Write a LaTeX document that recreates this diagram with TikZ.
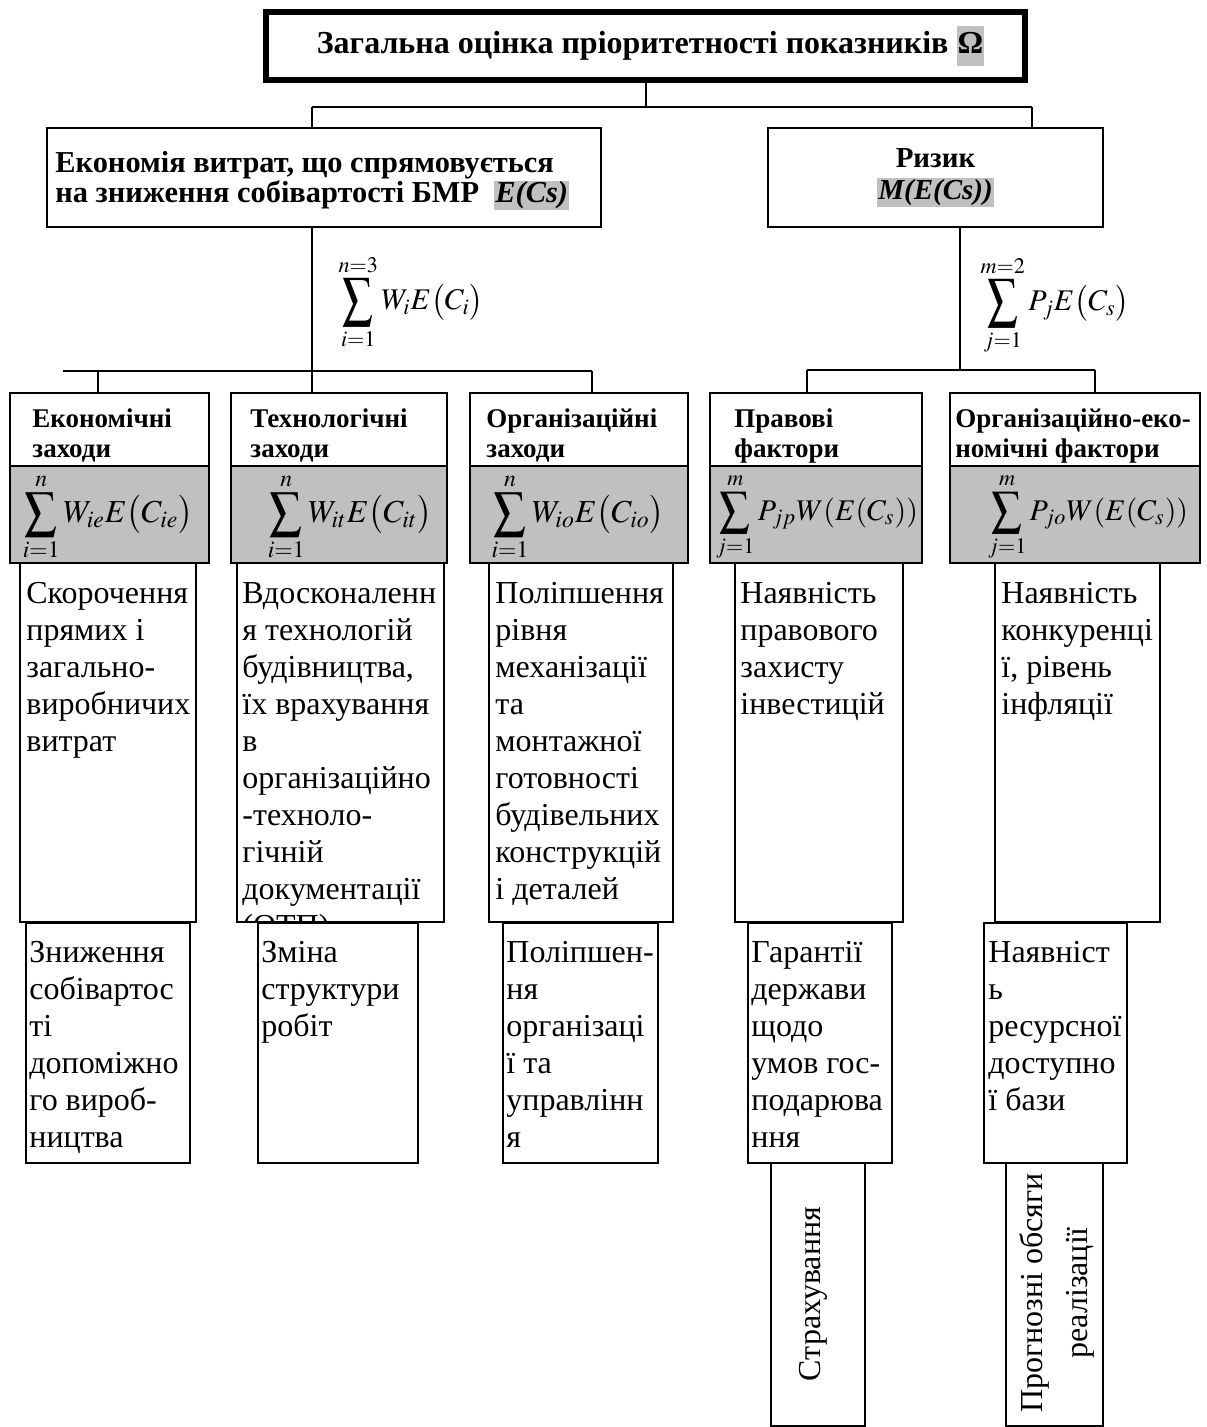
\documentclass[tikz,border=0pt]{standalone}
\usepackage{amsmath}
\usepackage{graphicx}
\usepackage{mathptmx}
\usepackage[no-math]{fontspec}
\setmainfont{Liberation Serif}
\definecolor{hl}{HTML}{C0C0C0}
\newcommand{\hs}{\rule{0pt}{12pt}}
\newcommand{\fs}{\rule{0pt}{15pt}}
\newcommand{\hlbox}[1]{{\setlength{\fboxsep}{0.5pt}\colorbox{hl}{#1}}}
\newcommand{\Sum}{\mathop{\vcenter{\hbox{\scalebox{1}[1.3]{$\displaystyle\sum$}}}}\limits}
\newcommand{\SumB}{\mathop{\vcenter{\hbox{\scalebox{1}[1.12]{$\displaystyle\sum$}}}}\limits}
\begin{document}
\begin{tikzpicture}[x=0.5pt,y=-0.5pt,
 conn/.style={line width=1pt},
 boxtop/.style={draw, line width=3pt, inner sep=0pt, outer sep=0pt},
 boxL2/.style={draw, line width=1.3pt, inner sep=0pt, outer sep=0pt},
 boxR3/.style={draw, line width=1.4pt, inner sep=0pt, outer sep=0pt},
 band/.style={draw, line width=0.6pt, fill=hl, inner sep=0pt, outer sep=0pt},
 boxR/.style={draw, line width=0.8pt, fill=white, inner sep=0pt, outer sep=0pt},
 hdr/.style={font=\bfseries\fontsize{13.5}{15}\selectfont, align=left, inner sep=0pt, anchor=north west},
 body/.style={font=\fontsize{16}{18.5}\selectfont, align=left, inner sep=0pt, anchor=north west},
 bsum/.style={font=\fontsize{16}{19}\selectfont, inner sep=0pt},
 msum/.style={font=\fontsize{15}{18}\selectfont, inner sep=0pt},
 vtxt/.style={font=\fontsize{16}{22.5}\selectfont, rotate=90, align=center, inner sep=0pt}
]
\useasboundingbox (0,0) rectangle (1206,1427);

% ---------- top levels ----------
\node[boxtop, minimum width=379.5pt, minimum height=34pt,
      font=\bfseries\fontsize{16}{19}\selectfont] (top) at (645.5,46)
  {\hspace{5pt}Загальна оцінка пріоритетності показників \hlbox{\strut Ω}};

\node[boxL2, minimum width=277pt, minimum height=49.5pt] (L2a) at (324,177.5) {};
\node[font=\bfseries\fontsize{15.2}{15}\selectfont, align=left, inner sep=0pt, anchor=west] (L2at) at (55,181)
  {Економія витрат, що спрямовується\\на зниження собівартості БМР \ \hlbox{\itshape E(Cs)}};

\node[boxL2, minimum width=167.5pt, minimum height=49.5pt,
      font=\bfseries\fontsize{14.5}{16}\selectfont, align=center] (L2b) at (935.5,177.5)
  {Ризик\\\hlbox{\itshape M(E(Cs))}};

\coordinate (jL) at (312,107);
\coordinate (jR) at (1032,107);
\draw[conn] (top.south) -- (top.south |- jL);
\draw[conn] (jL) -- (jR);
\draw[conn] (jL) -- (jL |- L2a.north);
\draw[conn] (jR) -- (jR |- L2b.north);

% ---------- middle sums ----------
\node[msum] (S1) at (411,302) {$\Sum_{i=1}^{n=3} W_{i}E\bigl(C_{i}\bigr)$};
\node[msum] (S2) at (1055,305) {$\Sum_{j=1}^{m=2} P_{j}E\bigl(C_{s}\bigr)$};

% ---------- connectors to row 3 ----------
\coordinate (bL) at (63,371);
\coordinate (bR) at (592,371);
\coordinate (t1) at (98,371);
\coordinate (t2) at (312,393);
\coordinate (kx) at (960,370);
\coordinate (kL) at (807,370);
\coordinate (kR) at (1095,370);
\draw[conn] (L2a.south -| jL) -- (t2);
\draw[conn] (bL) -- (bR);
\draw[conn] (t1) -- (t1 |- t2);
\draw[conn] (bR) -- (bR |- t2);
\draw[conn] (L2b.south -| kx) -- (kx);
\draw[conn] (kL) -- (kR);
\draw[conn] (kL) -- (kL |- t2);
\draw[conn] (kR) -- (kR |- t2);

% ---------- row 4 boxes ----------
\node[boxR, minimum width=88pt, minimum height=179.5pt] (R4a) at (108,742.5) {};
\node[boxR, minimum width=103.5pt, minimum height=179.5pt] (R4b) at (340.5,742.5) {};
\node[boxR, minimum width=92pt, minimum height=179.5pt] (R4c) at (581,742.5) {};
\node[boxR, minimum width=84pt, minimum height=179.5pt] (R4d) at (819,742.5) {};
\node[boxR, minimum width=82.5pt, minimum height=179.5pt] (R4e) at (1077.5,742.5) {};

% ---------- row 5 boxes ----------
\node[boxR, minimum width=82pt, minimum height=120pt] (R5a) at (108,1043) {};
\node[boxR, minimum width=80pt, minimum height=120pt] (R5b) at (338,1043) {};
\node[boxR, minimum width=77.5pt, minimum height=120pt] (R5c) at (580.5,1043) {};
\node[boxR, minimum width=72pt, minimum height=120pt] (R5d) at (820,1043) {};
\node[boxR, minimum width=71.5pt, minimum height=120pt] (R5e) at (1055.5,1043) {};

% ---------- row 6 boxes ----------
\node[boxR, minimum width=47pt, minimum height=131.5pt] (R6d) at (818,1294.5) {};
\node[boxR, minimum width=48.5pt, minimum height=131.5pt] (R6e) at (1054.5,1294.5) {};

% ---------- row 3 boxes ----------
\node[band, minimum width=99.5pt, minimum height=48.5pt] (B3a) at (109.5,514.5) {};
\node[band, minimum width=108pt, minimum height=48.5pt] (B3b) at (339,514.5) {};
\node[band, minimum width=109pt, minimum height=48.5pt] (B3c) at (579,514.5) {};
\node[band, minimum width=106pt, minimum height=48.5pt] (B3d) at (816,514.5) {};
\node[band, minimum width=125pt, minimum height=48.5pt] (B3e) at (1075,514.5) {};

\node[boxR3, minimum width=99.5pt, minimum height=85pt] (R3a) at (109.5,478) {};
\node[boxR3, minimum width=108pt, minimum height=85pt] (R3b) at (339,478) {};
\node[boxR3, minimum width=109pt, minimum height=85pt] (R3c) at (579,478) {};
\node[boxR3, minimum width=106pt, minimum height=85pt] (R3d) at (816,478) {};
\node[boxR3, minimum width=125pt, minimum height=85pt] (R3e) at (1075,478) {};

\node[hdr] (H3a) at (32,403) {\hs Економічні\\заходи};
\node[hdr] (H3b) at (250,403) {\hs Технологічні\\заходи};
\node[hdr] (H3c) at (486,403) {\hs Організаційні\\заходи};
\node[hdr] (H3d) at (734,403) {\hs Правові\\фактори};
\node[hdr] (H3e) at (955,403) {\hs Організаційно-еко-\\номічні фактори};

\node[bsum] (F3a) at (108,517) {$\SumB_{i=1}^{n} W_{ie}E\bigl(C_{ie}\bigr)$};
\node[bsum] (F3b) at (350,517) {$\SumB_{i=1}^{n} W_{it}E\bigl(C_{it}\bigr)$};
\node[bsum] (F3c) at (578,517) {$\SumB_{i=1}^{n} W_{io}E\bigl(C_{io}\bigr)$};
\node[bsum, font=\fontsize{15}{18}\selectfont] (F3d) at (817,517) {$\SumB_{j=1}^{m} P_{jp}W(E(C_{s}))$};
\node[bsum, font=\fontsize{15}{18}\selectfont] (F3e) at (1088,517) {$\SumB_{j=1}^{m} P_{jo}W(E(C_{s}))$};

% ---------- row 4 texts ----------
\node[body] (T4a) at (26,573) {\fs Скорочення\\прямих і\\загально-\\виробничих\\витрат};
\begin{scope}
\clip (R4b.north west) rectangle (R4b.south east);
\node[body] (T4b) at (242,573) {\fs Вдосконаленн\\я технологій\\будівництва,\\їх врахування\\в\\організаційно\\-техноло-\\гічній\\документації\\(ОТП)};
\end{scope}
\draw[line width=0.8pt] (R4b.north west) rectangle (R4b.south east);
\node[body] (T4c) at (495,573) {\fs Поліпшення\\рівня\\механізації\\та\\монтажної\\готовності\\будівельних\\конструкцій\\і деталей};
\node[body] (T4d) at (740,573) {\fs Наявність\\правового\\захисту\\інвестицій};
\node[body] (T4e) at (1001,573) {\fs Наявність\\конкуренці\\ї, рівень\\інфляції};

% ---------- row 5 texts ----------
\node[body] (T5a) at (29,932) {\fs Зниження\\собівартос\\ті\\допоміжно\\го вироб-\\ництва};
\node[body] (T5b) at (261,932) {\fs Зміна\\структури\\робіт};
\node[body] (T5c) at (506,932) {\fs Поліпшен-\\ня\\організаці\\ї та\\управлінн\\я};
\node[body] (T5d) at (751,932) {\fs Гарантії\\держави\\щодо\\умов гос-\\подарюва\\ння};
\node[body] (T5e) at (988,932) {\fs Наявніст\\ь\\ресурсної\\доступно\\ї бази};

% ---------- row 6 texts ----------
\node[vtxt] (T6d) at (813,1294) {Страхування};
\node[vtxt] (T6e) at (1057,1293) {Прогнозні обсяги\\реалізації};
\end{tikzpicture}
\end{document}
